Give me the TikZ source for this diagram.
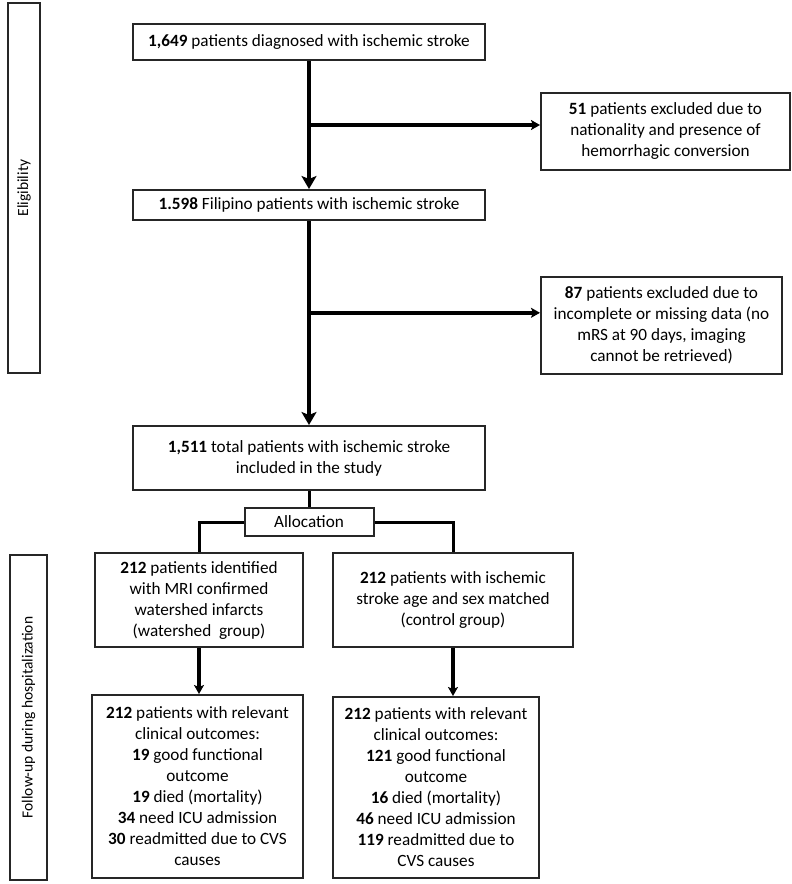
\documentclass[tikz,border=0pt]{standalone}
\usepackage{fontspec}
\setmainfont{Carlito}
\usepackage{tikz}
\usetikzlibrary{positioning,arrows.meta,calc}

\begin{document}
\begin{tikzpicture}[
    x=1pt, y=1pt,
    node distance=16pt,
    box/.style={draw=black!85, line width=2pt, rectangle, inner sep=0pt, align=center, text=black, font=\fontsize{17.2}{21}\selectfont},
    phase/.style={draw=black!85, line width=2pt, rectangle, inner sep=0pt, rotate=90, text=black, font=\fontsize{15.5}{18}\selectfont},
    arr/.style={-{Stealth[length=9pt,width=10pt,inset=2pt]}, line width=3.4pt, draw=black},
    bigarr/.style={-{Stealth[length=13pt,width=15pt,inset=3pt]}, line width=3.6pt, draw=black},
    link/.style={line width=3pt, draw=black}
]
    \useasboundingbox (0,0) rectangle (792,-884);
    \node[phase, minimum width=370pt, minimum height=32pt] (elig) at (24,-188) {Eligibility};
    \node[phase, minimum width=325pt, minimum height=37pt] (followup) at (28.5,-717.5) {Follow-up during hospitalization};
    \node[box, minimum width=352pt, minimum height=36pt] (diag) at (309,-42) {\textbf{1,649} patients diagnosed with ischemic stroke};
    \node[box, minimum width=352pt, minimum height=30pt, below=128pt of diag] (filipino) {\textbf{1.598} Filipino patients with ischemic stroke};
    \node[box, minimum width=352pt, minimum height=64pt, below=204pt of filipino] (total) {\textbf{1,511} total patients with ischemic stroke\\included in the study};
    \node[box, minimum width=129pt, minimum height=28pt, below=of total] (alloc) {Allocation};
    \node[box, minimum width=249pt, minimum height=77pt, below right=31pt and 54pt of diag] (excl1) {\textbf{51} patients excluded due to\\nationality and presence of\\hemorrhagic conversion};
    \node[box, minimum width=241pt, minimum height=97pt, below right=55pt and 54pt of filipino] (excl2) {\textbf{87} patients excluded due to\\incomplete or missing data (no\\mRS at 90 days, imaging\\cannot be retrieved)};
    \node[box, minimum width=208pt, minimum height=94pt] (wsgroup) at (199,-600) {\textbf{212} patients identified\\with MRI confirmed\\watershed infarcts\\(watershed~ group)};
    \node[box, minimum width=240pt, minimum height=94pt] (ctrlgroup) at (453,-600) {\textbf{212} patients with ischemic\\stroke age and sex matched\\(control group)};
    \node[box, minimum width=211pt, minimum height=183pt] (wsout) at (197.5,-786.5) {\textbf{212} patients with relevant\\clinical outcomes:\\\textbf{19} good functional\\outcome\\\textbf{19} died (mortality)\\\textbf{34} need ICU admission\\\textbf{30} readmitted due to CVS\\causes};
    \node[box, minimum width=206pt, minimum height=181pt] (ctrlout) at (436,-787.5) {\textbf{212} patients with relevant\\clinical outcomes:\\\textbf{121} good functional\\outcome\\\textbf{16} died (mortality)\\\textbf{46} need ICU admission\\\textbf{119} readmitted due to\\CVS causes};
    \coordinate (split1) at ($(diag.south)!0.5!(filipino.north)$);
    \coordinate (split2) at ($(filipino.south)!0.45!(total.north)$);
    \draw[bigarr] (diag) -- (filipino);
    \draw[arr] (split1) -- (split1 -| excl1.west);
    \draw[bigarr] (filipino) -- (total);
    \draw[arr] (split2) -- (split2 -| excl2.west);
    \draw[link] (total) -- (alloc);
    \draw[link] (alloc.west) -| (wsgroup.north);
    \draw[link] (alloc.east) -| (ctrlgroup.north);
    \draw[arr] (wsgroup.south) -- (wsgroup.south |- wsout.north);
    \draw[arr] (ctrlgroup.south) -- (ctrlgroup.south |- ctrlout.north);
\end{tikzpicture}
\end{document}
